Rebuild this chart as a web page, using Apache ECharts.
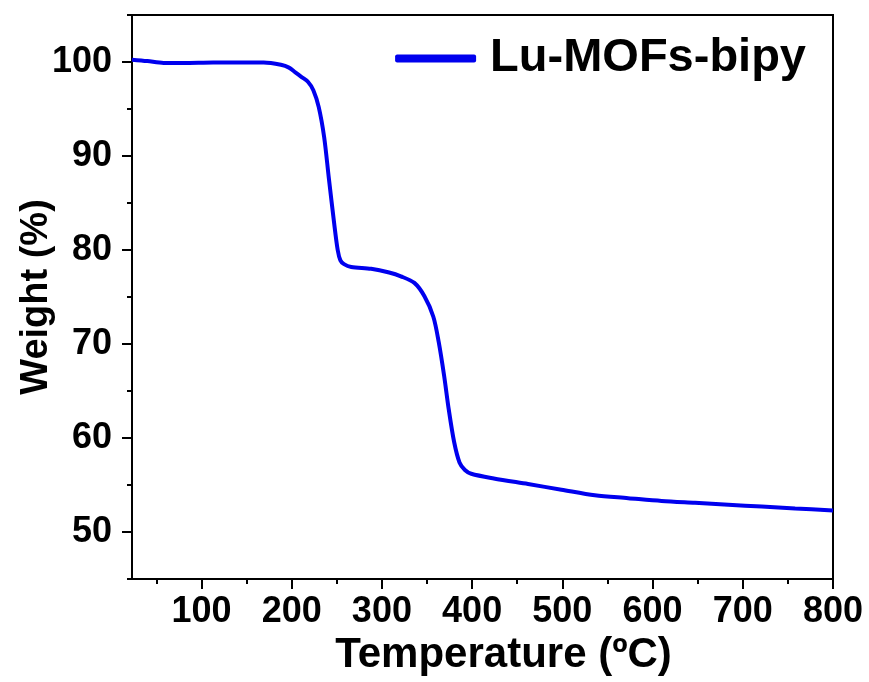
<!DOCTYPE html>
<html>
<head>
<meta charset="utf-8">
<script src="https://cdn.jsdelivr.net/npm/echarts@6/dist/echarts.min.js"></script>
<style>html,body{margin:0;padding:0;background:#fff}#c{width:869px;height:682px}</style>
</head>
<body>
<div id="c"></div>
<script>
const seriesName = 'Lu-MOFs-bipy';
const temperature = [23, 40, 58, 80, 113, 140, 169, 188, 197, 204, 211, 218, 224, 230, 236, 241, 247, 251, 254, 258, 266, 288, 308, 321, 336, 347, 357, 363, 369, 374, 380, 386, 392, 399, 424, 462, 499, 536, 573, 610, 647, 684, 721, 758, 800];
const weight = [100.25, 100.1, 99.9, 99.9, 99.95, 99.95, 99.95, 99.7, 99.4, 98.9, 98.4, 97.9, 97.0, 95.2, 92.0, 87.8, 82.9, 80.0, 78.9, 78.5, 78.2, 78.0, 77.6, 77.2, 76.5, 75.1, 72.9, 70.2, 66.6, 63.1, 59.6, 57.4, 56.6, 56.2, 55.7, 55.1, 54.5, 53.9, 53.6, 53.3, 53.1, 52.9, 52.7, 52.5, 52.3];
const xMajorTicks = [100, 200, 300, 400, 500, 600, 700, 800];
const xMinorTicks = [50, 150, 250, 350, 450, 550, 650, 750];
const yMajorTicks = [50, 60, 70, 80, 90, 100];
const yMinorTicks = [45, 55, 65, 75, 85, 95, 105];

const FONT = 'Liberation Sans';
const chart = echarts.init(document.getElementById('c'), null, {renderer: 'canvas'});
const axisLine = {show: true, lineStyle: {color: '#000', width: 2}};
chart.setOption({
  animation: false,
  backgroundColor: '#fff',
  grid: {left: 132, right: 36, top: 15, bottom: 103, show: true, borderColor: '#000', borderWidth: 2, containLabel: false},
  legend: {
    data: [seriesName],
    right: 58, top: 30,
    icon: 'roundRect', itemWidth: 81, itemHeight: 8, itemGap: 10,
    textStyle: {fontFamily: FONT, fontWeight: 'bold', fontSize: 47, color: '#000', padding: [0, 0, 0, 9]}
  },
  xAxis: [{
    type: 'value', min: 23, max: 800,
    axisLine: axisLine,
    splitLine: {show: false},
    axisTick: {show: true, customValues: xMinorTicks, length: 5, lineStyle: {color: '#000', width: 2}},
    axisLabel: {customValues: xMajorTicks, fontFamily: FONT, fontWeight: 'bold', fontSize: 36, color: '#000', margin: 15},
    name: 'Temperature (ºC)', nameLocation: 'middle', nameGap: 52,
    nameTextStyle: {fontFamily: FONT, fontWeight: 'bold', fontSize: 42, color: '#000', padding: [0, 0, 0, 42]}
  }, {
    type: 'value', min: 23, max: 800, position: 'bottom',
    axisLine: {show: false}, splitLine: {show: false},
    axisTick: {show: true, customValues: xMajorTicks, length: 10, lineStyle: {color: '#000', width: 2}},
    axisLabel: {show: false}
  }],
  yAxis: [{
    type: 'value', min: 45, max: 105,
    axisLine: axisLine,
    splitLine: {show: false},
    axisTick: {show: true, customValues: yMinorTicks, length: 5, lineStyle: {color: '#000', width: 2}},
    axisLabel: {customValues: yMajorTicks, fontFamily: FONT, fontWeight: 'bold', fontSize: 36, color: '#000', margin: 20},
    name: 'Weight (%)', nameLocation: 'middle', nameGap: 76, nameMoveOverlap: false,
    nameTextStyle: {fontFamily: FONT, fontWeight: 'bold', fontSize: 38, color: '#000'}
  }, {
    type: 'value', min: 45, max: 105, position: 'left',
    axisLine: {show: false}, splitLine: {show: false},
    axisTick: {show: true, customValues: yMajorTicks, length: 10, lineStyle: {color: '#000', width: 2}},
    axisLabel: {show: false}
  }],
  series: [{
    name: seriesName,
    type: 'line',
    data: temperature.map((t, i) => [t, weight[i]]),
    smooth: 0.3,
    symbol: 'none',
    lineStyle: {color: '#0000ee', width: 4},
    itemStyle: {color: '#0000ee'}
  }]
});
</script>
</body>
</html>
